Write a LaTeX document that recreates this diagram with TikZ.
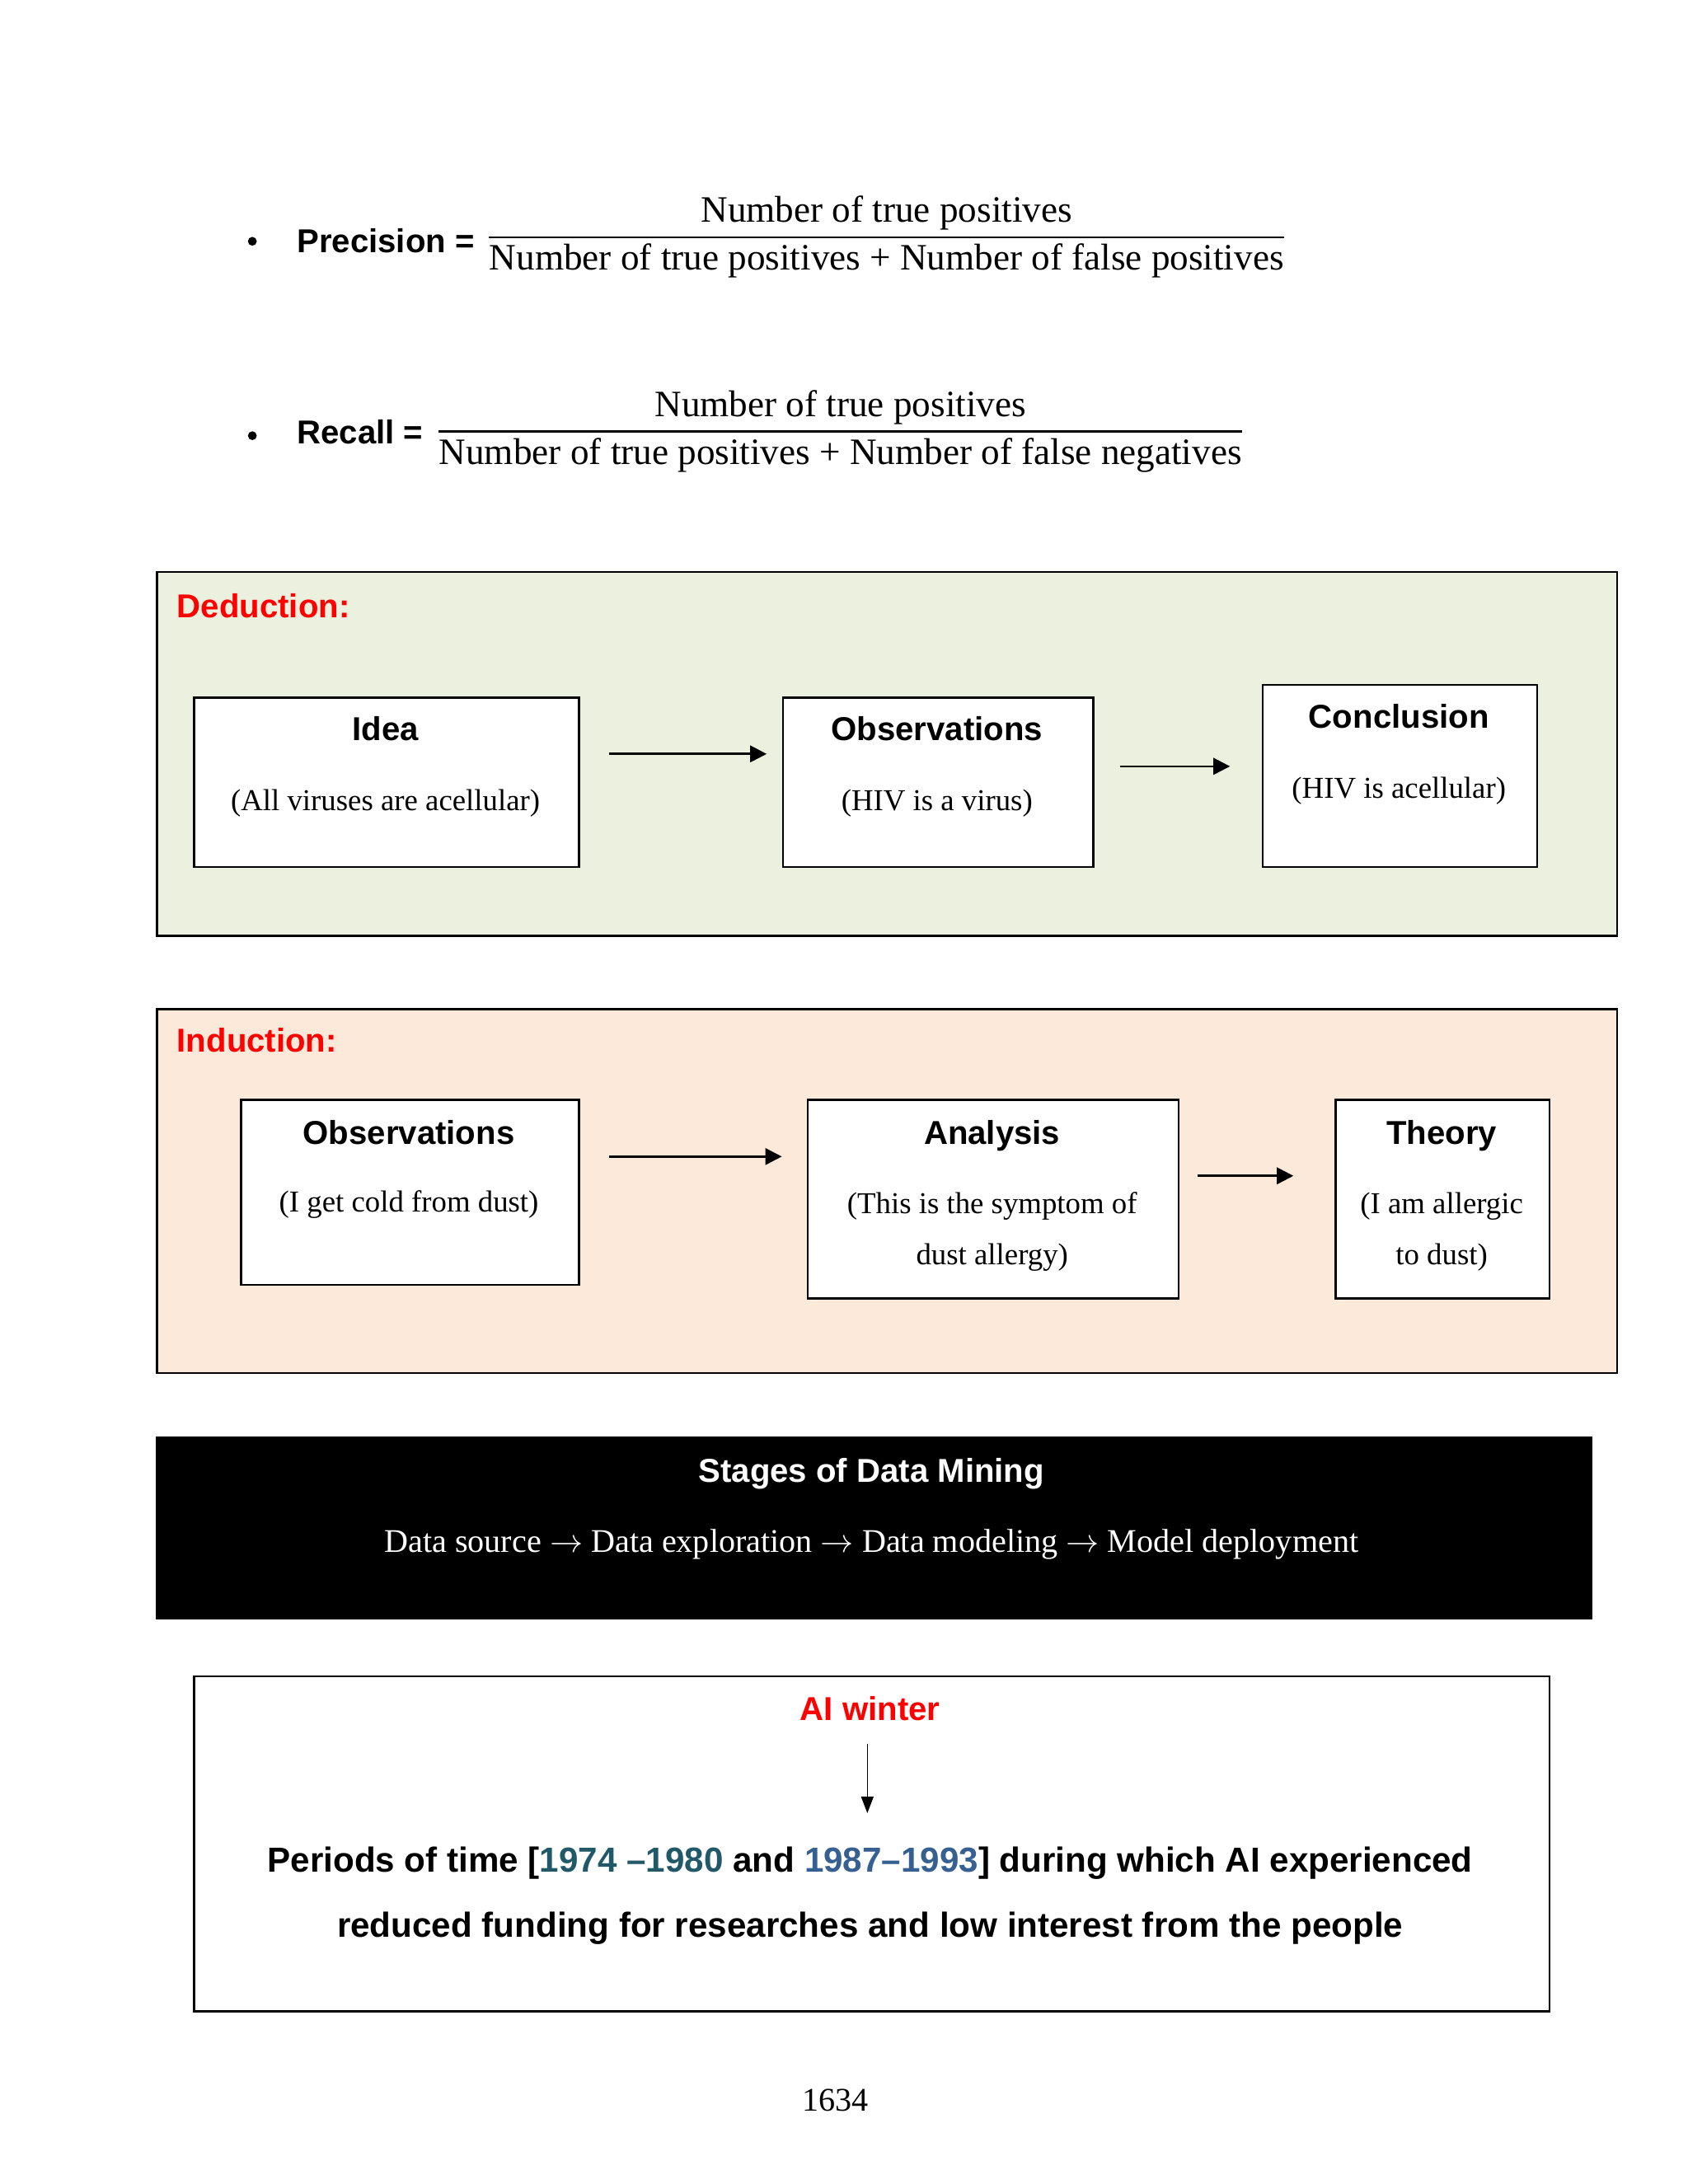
\documentclass[tikz,border=0pt]{standalone}
\usepackage{fontspec}
\setmainfont{Liberation Serif}
\setsansfont{Liberation Sans}
\usetikzlibrary{positioning,calc,arrows.meta}

\definecolor{deducfill}{HTML}{EBF1DE}
\definecolor{inducfill}{HTML}{FDE9D9}
\definecolor{yearone}{HTML}{215968}
\definecolor{yeartwo}{HTML}{366092}

\tikzstyle{panel} = [draw, line width=0.8pt, anchor=north west, inner sep=0pt]
\tikzstyle{card} = [draw, fill=white, line width=0.8pt, anchor=north west, inner sep=0pt]
\tikzstyle{head} = [font=\sffamily\bfseries\fontsize{12}{14}\selectfont, inner sep=0pt, anchor=base]
\tikzstyle{tag} = [head, text=red, anchor=base west]
\tikzstyle{note} = [font=\fontsize{11}{13}\selectfont, inner sep=0pt, anchor=base]
\tikzstyle{frac} = [font=\fontsize{13.5}{15}\selectfont, inner sep=0pt, anchor=base]
\tikzstyle{bar} = [line width=0.7pt]
\tikzstyle{dot} = [circle, fill, minimum size=3.2pt, inner sep=0pt]
\tikzstyle{flow} = [-{Triangle[length=6pt,width=6pt]}, line width=0.8pt]
\tikzstyle{drop} = [-{Triangle[length=6pt,width=4.5pt]}, line width=0.45pt]

\begin{document}
\begin{tikzpicture}[x=0.5pt, y=-0.5pt]
\useasboundingbox (0,0) rectangle (1224,1584);
\fill[white] (0,0) rectangle (1224,1584);

% precision and recall
\node[dot] (pdot) at (183,175) {};
\node[head, anchor=base west] (plabel) at (215,183) {Precision =};
\node[frac] (pnum) at (643,161) {Number of true positives};
\node[frac] (pden) at (643,196) {Number of true positives + Number of false positives};
\coordinate (pbar) at (643,172);
\draw[bar] (pden.west |- pbar) -- (pden.east |- pbar);

\node[dot] (rdot) at (183,316) {};
\node[head, anchor=base west] (rlabel) at (215,322) {Recall =};
\node[frac] (rnum) at (609.5,302) {Number of true positives};
\node[frac] (rden) at (609.5,337) {Number of true positives + Number of false negatives};
\coordinate (rbar) at (609.5,313);
\draw[bar] (rden.west |- rbar) -- (rden.east |- rbar);

% deduction
\node[panel, fill=deducfill, minimum width=529.5pt, minimum height=132pt] (deduc) at (113,414) {};
\node[tag] (deductag) at (128,448) {Deduction:};
\node[card, minimum width=139.5pt, minimum height=61.5pt] (idea) at (140,505) {};
\node[card, minimum width=112.5pt, minimum height=61.5pt] (obs) at (567,505) {};
\node[card, minimum width=99.5pt, minimum height=66pt] (concl) at (915,496) {};
\node[head] at (279.5,537) {Idea};
\node[note] at (279.5,588) {(All viruses are acellular)};
\node[head] at (679.5,537) {Observations};
\node[note] at (679.5,588) {(HIV is a virus)};
\node[head] at (1014.5,528) {Conclusion};
\node[note] at (1014.5,579) {(HIV is acellular)};
\draw[flow] ($(idea.east)+(21,-20.5)$) -- ($(obs.west)+(-11,-20.5)$);
\draw[flow] ($(obs.east)+(19,-11.5)$) -- ($(concl.west)+(-23,-7)$);

% induction
\node[panel, fill=inducfill, minimum width=529.5pt, minimum height=132pt] (induc) at (113,731) {};
\node[tag] (induetag) at (128,763) {Induction:};
\node[card, minimum width=122.5pt, minimum height=67pt] (seen) at (174,797) {};
\node[card, minimum width=134.5pt, minimum height=72pt] (anal) at (585,797) {};
\node[card, minimum width=77.5pt, minimum height=72pt] (theory) at (968,797) {};
\node[head] at (296.5,830) {Observations};
\node[note] at (296.5,879) {(I get cold from dust)};
\node[head] at (719.5,830) {Analysis};
\node[note] at (719.5,880) {(This is the symptom of};
\node[note] at (719.5,917) {dust allergy)};
\node[head] at (1045.5,830) {Theory};
\node[note] at (1045.5,880) {(I am allergic};
\node[note] at (1045.5,917) {to dust)};
\draw[flow] ($(seen.east)+(21,-26)$) -- ($(anal.west)+(-18,-31)$);
\draw[flow] ($(anal.east)+(13,-17)$) -- ($(theory.west)+(-30,-17)$);

% stages of data mining
\node[panel, fill=black, minimum width=520pt, minimum height=65.5pt] (stages) at (113,1042) {};
\node[head, text=white] at (632,1075) {Stages of Data Mining};
\node[note, text=white, font=\fontsize{12}{14}\selectfont] at (632,1126)
    {Data source $\rightarrow$ Data exploration $\rightarrow$ Data modeling $\rightarrow$ Model deployment};

% ai winter
\node[card, minimum width=491.5pt, minimum height=121.5pt] (winter) at (140,1215) {};
\node[head, text=red] (aiw) at (631,1248) {AI winter};
\node[head, font=\sffamily\bfseries\fontsize{12.6}{14}\selectfont] (per1) at (631,1358)
    {Periods of time [{\color{yearone}1974 –1980} and {\color{yeartwo}1987–1993}] during which AI experienced};
\node[head, font=\sffamily\bfseries\fontsize{12.6}{14}\selectfont] (per2) at (631,1405)
    {reduced funding for researches and low interest from the people};
\draw[drop] ($(aiw.base)+(-2,17)$) -- ($(per1.base)+(-2,-43)$);

% page number
\node[note, font=\fontsize{12}{14}\selectfont] (page) at (606,1531) {1634};
\end{tikzpicture}
\end{document}
